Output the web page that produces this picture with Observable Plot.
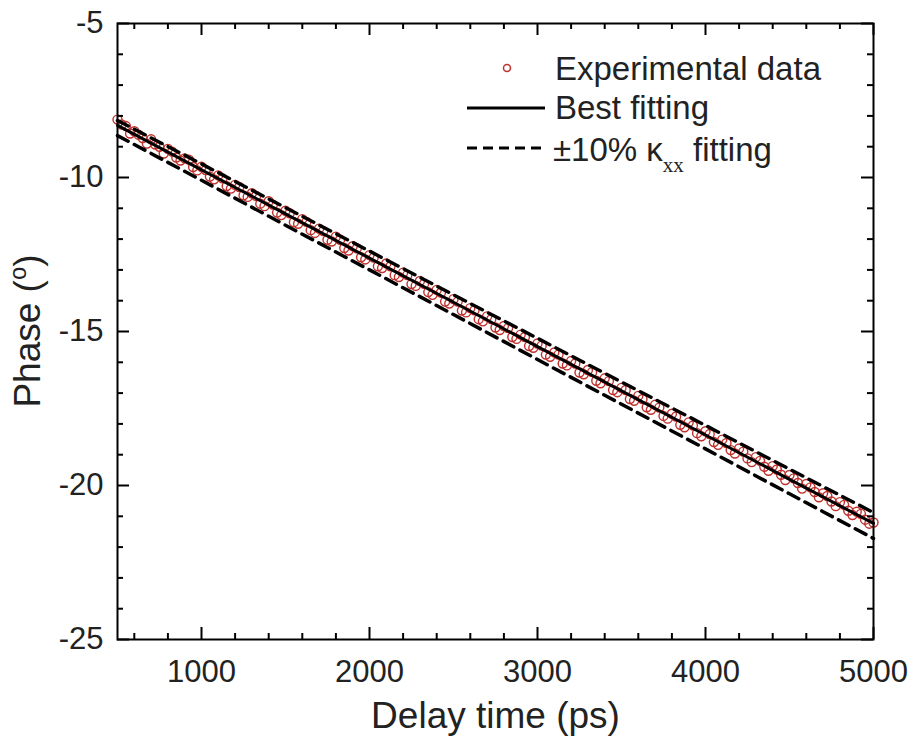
<!DOCTYPE html>
<html><head><meta charset="utf-8">
<script src="https://cdn.jsdelivr.net/npm/d3@7"></script>
<script src="https://cdn.jsdelivr.net/npm/@observablehq/plot@0.6"></script>
<style>body{margin:0;background:#fff}</style>
</head><body><div id="chart"></div>
<script>
const delayTime = [500,525,550,575,600,625,650,675,700,725,750,775,800,825,850,875,900,925,950,975,1000,1025,1050,1075,1100,1125,1150,1175,1200,1225,1250,1275,1300,1325,1350,1375,1400,1425,1450,1475,1500,1525,1550,1575,1600,1625,1650,1675,1700,1725,1750,1775,1800,1825,1850,1875,1900,1925,1950,1975,2000,2025,2050,2075,2100,2125,2150,2175,2200,2225,2250,2275,2300,2325,2350,2375,2400,2425,2450,2475,2500,2525,2550,2575,2600,2625,2650,2675,2700,2725,2750,2775,2800,2825,2850,2875,2900,2925,2950,2975,3000,3025,3050,3075,3100,3125,3150,3175,3200,3225,3250,3275,3300,3325,3350,3375,3400,3425,3450,3475,3500,3525,3550,3575,3600,3625,3650,3675,3700,3725,3750,3775,3800,3825,3850,3875,3900,3925,3950,3975,4000,4025,4050,4075,4100,4125,4150,4175,4200,4225,4250,4275,4300,4325,4350,4375,4400,4425,4450,4475,4500,4525,4550,4575,4600,4625,4650,4675,4700,4725,4750,4775,4800,4825,4850,4875,4900,4925,4950,4975,5000];
const phaseData = [-8.12,-8.28,-8.33,-8.57,-8.50,-8.61,-8.72,-8.90,-8.76,-8.93,-9.00,-9.22,-9.07,-9.16,-9.35,-9.45,-9.38,-9.42,-9.66,-9.77,-9.65,-9.76,-9.97,-10.06,-9.93,-10.03,-10.28,-10.36,-10.24,-10.31,-10.58,-10.63,-10.51,-10.60,-10.85,-10.93,-10.77,-10.88,-11.14,-11.22,-11.08,-11.16,-11.45,-11.50,-11.35,-11.44,-11.71,-11.80,-11.66,-11.74,-12.02,-12.08,-11.92,-12.02,-12.29,-12.37,-12.23,-12.30,-12.59,-12.66,-12.52,-12.60,-12.88,-12.94,-12.79,-12.88,-13.17,-13.23,-13.09,-13.17,-13.46,-13.52,-13.36,-13.45,-13.72,-13.81,-13.65,-13.74,-14.03,-14.09,-13.95,-14.03,-14.32,-14.38,-14.24,-14.31,-14.60,-14.67,-14.51,-14.60,-14.87,-14.95,-14.82,-14.89,-15.18,-15.24,-15.10,-15.18,-15.47,-15.53,-15.39,-15.46,-15.75,-15.82,-15.68,-15.75,-16.04,-16.10,-15.96,-16.04,-16.33,-16.39,-16.25,-16.32,-16.60,-16.68,-16.52,-16.61,-16.90,-16.97,-16.83,-16.90,-17.19,-17.25,-17.09,-17.19,-17.46,-17.54,-17.38,-17.47,-17.74,-17.83,-17.67,-17.76,-18.03,-18.11,-17.95,-18.05,-18.30,-18.40,-18.24,-18.33,-18.59,-18.68,-18.51,-18.62,-18.85,-18.96,-18.80,-18.90,-19.12,-19.24,-19.08,-19.20,-19.39,-19.52,-19.37,-19.48,-19.65,-19.82,-19.66,-19.77,-19.92,-20.10,-19.95,-20.06,-20.21,-20.38,-20.25,-20.34,-20.52,-20.67,-20.54,-20.63,-20.82,-20.96,-20.85,-20.92,-21.11,-21.24,-21.20];
const fitTime = [500,1000,1500,2000,2500,3000,3500,4000,4500,5000];
const bestFit = [-8.31,-9.75,-11.18,-12.62,-14.05,-15.49,-16.93,-18.36,-19.80,-21.23];
const fitPlus10 = [-8.15,-9.56,-10.98,-12.39,-13.81,-15.22,-16.64,-18.05,-19.47,-20.88];
const fitMinus10 = [-8.64,-10.09,-11.55,-13.00,-14.45,-15.91,-17.36,-18.81,-20.27,-21.72];
const xTicks = [1000,2000,3000,4000,5000];
const xMinor = [600,800,1200,1400,1600,1800,2200,2400,2600,2800,3200,3400,3600,3800,4200,4400,4600,4800];
const yTicks = [-25,-20,-15,-10,-5];
const yMinor = [-24,-23,-22,-21,-19,-18,-17,-16,-14,-13,-12,-11,-9,-8,-7,-6];
const xLabel = "Delay time (ps)";
const legendLabels = ["Experimental data","Best fitting","±10% κ","xx"," fitting"];

const W = 913, H = 746, mL = 117, mR = 40, mT = 23, mB = 107;
const fw = W - mL - mR, fh = H - mT - mB;
const FONT = "'Liberation Sans', Arial, Helvetica, sans-serif";
const RED = "#c0302c";

const points = delayTime.map((t, i) => ({t, p: phaseData[i]}));
const fits = [];
fitTime.forEach((t, i) => {
  fits.push({t, p: bestFit[i], s: "best"});
  fits.push({t, p: fitPlus10[i], s: "plus"});
  fits.push({t, p: fitMinus10[i], s: "minus"});
});

const plot = Plot.plot({
  width: W, height: H,
  marginLeft: mL, marginRight: mR, marginTop: mT, marginBottom: mB,
  style: {fontFamily: FONT, background: "#fff", color: "#000"},
  x: {domain: [500, 5000]},
  y: {domain: [-25, -5]},
  marks: [
    Plot.dot(points, {x: "t", y: "p", r: 4.5, stroke: RED, strokeWidth: 1.4, fill: "none"}),
    Plot.line(fits.filter(d => d.s === "plus"), {x: "t", y: "p", stroke: "#000", strokeWidth: 3.5, strokeDasharray: "12,7"}),
    Plot.line(fits.filter(d => d.s === "minus"), {x: "t", y: "p", stroke: "#000", strokeWidth: 3.5, strokeDasharray: "12,7"}),
    Plot.line(fits.filter(d => d.s === "best"), {x: "t", y: "p", stroke: "#000", strokeWidth: 3}),
    // inward ticks
    Plot.ruleX(xTicks, {x: d => d, insetTop: fh - 12, stroke: "#000", strokeWidth: 2}),
    Plot.ruleX(xMinor, {x: d => d, insetTop: fh - 6, stroke: "#000", strokeWidth: 2}),
    Plot.ruleX(xTicks, {x: d => d, insetBottom: fh - 12, stroke: "#000", strokeWidth: 2}),
    Plot.ruleX(xMinor, {x: d => d, insetBottom: fh - 6, stroke: "#000", strokeWidth: 2}),
    Plot.ruleY(yTicks, {y: d => d, insetRight: fw - 12, stroke: "#000", strokeWidth: 2}),
    Plot.ruleY(yMinor, {y: d => d, insetRight: fw - 6, stroke: "#000", strokeWidth: 2}),
    Plot.ruleY(yTicks, {y: d => d, insetLeft: fw - 12, stroke: "#000", strokeWidth: 2}),
    Plot.ruleY(yMinor, {y: d => d, insetLeft: fw - 6, stroke: "#000", strokeWidth: 2}),
    Plot.frame({stroke: "#000", strokeWidth: 2}),
    Plot.axisX({ticks: xTicks, tickSize: 0, tickPadding: 20, fontSize: 31, label: null, tickFormat: d => String(d), fill: "#222"}),
    Plot.axisY({ticks: yTicks, tickSize: 0, tickPadding: 14, fontSize: 31, label: null, tickFormat: d => String(d), fill: "#222"}),
    Plot.text([xLabel], {frameAnchor: "bottom", dy: 88, fontSize: 37, fill: "#222"})
  ]
});
document.getElementById("chart").appendChild(plot);

const svg = d3.select(plot);
// y axis title with superscript o
const yt = svg.append("text")
  .attr("transform", `translate(40, ${mT + fh / 2}) rotate(-90)`)
  .attr("text-anchor", "middle")
  .attr("font-family", FONT).attr("font-size", 37).attr("fill", "#222");
yt.append("tspan").text("Phase (");
yt.append("tspan").attr("font-size", 24).attr("dy", -14).text("o");
yt.append("tspan").attr("dy", 14).text(")");

// legend
const lg = svg.append("g").attr("font-family", FONT).attr("font-size", 33).attr("fill", "#222").attr("text-anchor", "start");
lg.append("circle").attr("cx", 507).attr("cy", 68).attr("r", 3.5).attr("fill", "none").attr("stroke", RED).attr("stroke-width", 1.5);
lg.append("text").attr("x", 555).attr("y", 80).text(legendLabels[0]);
lg.append("line").attr("x1", 467).attr("x2", 545).attr("y1", 108).attr("y2", 108).attr("stroke", "#000").attr("stroke-width", 3);
lg.append("text").attr("x", 555).attr("y", 119).text(legendLabels[1]);
lg.append("line").attr("x1", 467).attr("x2", 545).attr("y1", 148).attr("y2", 148).attr("stroke", "#000").attr("stroke-width", 3.2).attr("stroke-dasharray", "10,6");
const t3 = lg.append("text").attr("x", 553).attr("y", 161);
t3.append("tspan").text(legendLabels[2]);
t3.append("tspan").attr("font-family", "'Liberation Serif', 'Times New Roman', serif").attr("font-size", 21).attr("dy", 11).text(legendLabels[3]);
t3.append("tspan").attr("dy", -11).text(legendLabels[4]);
</script>
</body></html>
